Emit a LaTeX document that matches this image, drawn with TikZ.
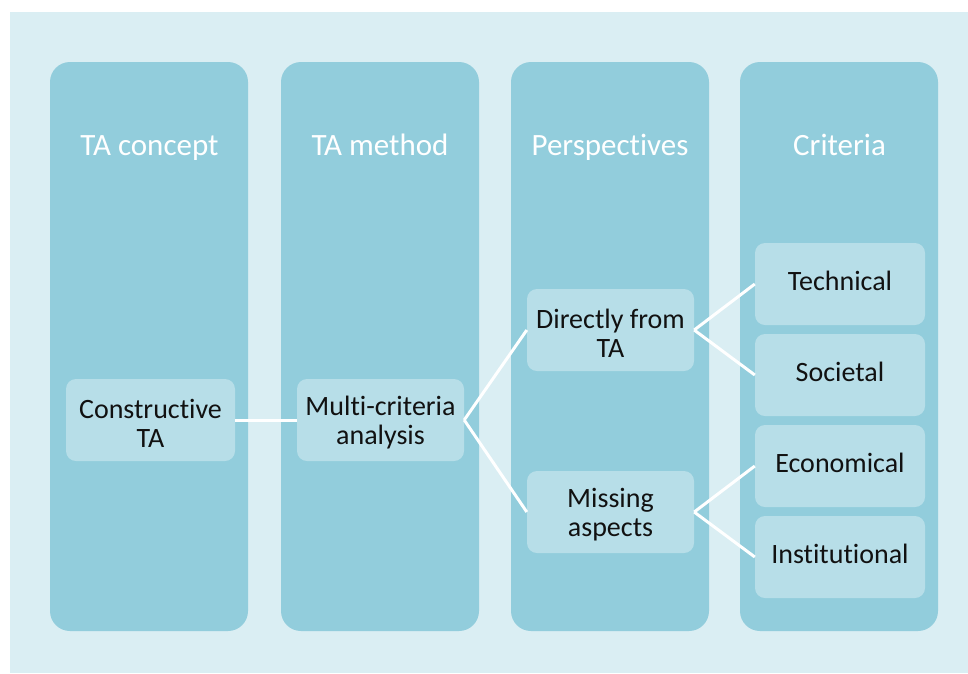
\documentclass[tikz,border=0pt]{standalone}
\usepackage{fontspec}
\setmainfont[Ligatures=NoCommon]{Carlito}
\definecolor{bgc}{HTML}{DAEEF3}
\definecolor{colc}{HTML}{92CDDC}
\definecolor{boxc}{HTML}{B7DEE8}
\definecolor{txtc}{HTML}{111111}
\newcommand\myupstrut{\rule{0pt}{25pt}}
\newcommand\mydnstrut{\rule[-7pt]{0pt}{7pt}}
\tikzset{
  column/.style={fill=colc, rounded corners=20pt, draw=none},
  coltitle/.style={anchor=base, text=white, font=\fontsize{31}{34}\selectfont, inner sep=0pt},
  item/.style={fill=boxc, rounded corners=10pt, draw=none, minimum width=169pt, minimum height=82pt,
    align=center, text=txtc, font=\fontsize{28}{29}\selectfont, inner sep=0pt},
  link/.style={draw=white, line width=3pt}
}
\begin{document}
\begin{tikzpicture}[x=1pt,y=-1pt]
\useasboundingbox (0,0) rectangle (968,673);
\fill[bgc] (10,12) rectangle (968,673);
% columns
\path[column] (50,62) rectangle (248,631);
\path[column] (281,62) rectangle (479,631);
\path[column] (511,62) rectangle (709,631);
\path[column] (740,62) rectangle (938,631);
% titles
\node[coltitle] (t1) at (149.5,155) {TA concept};
\node[coltitle] (t2) at (380,155) {TA method};
\node[coltitle] (t3) at (610,155) {Perspectives};
\node[coltitle] (t4) at (839.5,155) {Criteria};
% items
\node[item] (cta) at (150.5,420) {\myupstrut Constructive\\TA};
\node[item, minimum width=167pt] (mca) at (380.5,420) {\myupstrut Multi-criteria\\analysis};
\node[item, minimum width=167pt] (dft) at (610.5,330) {\myupstrut Directly from\\TA};
\node[item, minimum width=167pt] (mis) at (610.5,512) {\myupstrut Missing\\aspects};
\node[item, minimum width=170pt] (tec) at (840,284) {Technical\mydnstrut};
\node[item, minimum width=170pt] (soc) at (840,375) {Societal\mydnstrut};
\node[item, minimum width=170pt] (eco) at (840,466) {Economical\mydnstrut};
\node[item, minimum width=170pt] (ins) at (840,557) {Institutional\mydnstrut};
% connectors
\draw[link] (cta.east) -- (mca.west);
\draw[link] (mca.east) -- (dft.west);
\draw[link] (mca.east) -- (mis.west);
\draw[link] (dft.east) -- (tec.west);
\draw[link] (dft.east) -- (soc.west);
\draw[link] (mis.east) -- (eco.west);
\draw[link] (mis.east) -- (ins.west);
\end{tikzpicture}
\end{document}
